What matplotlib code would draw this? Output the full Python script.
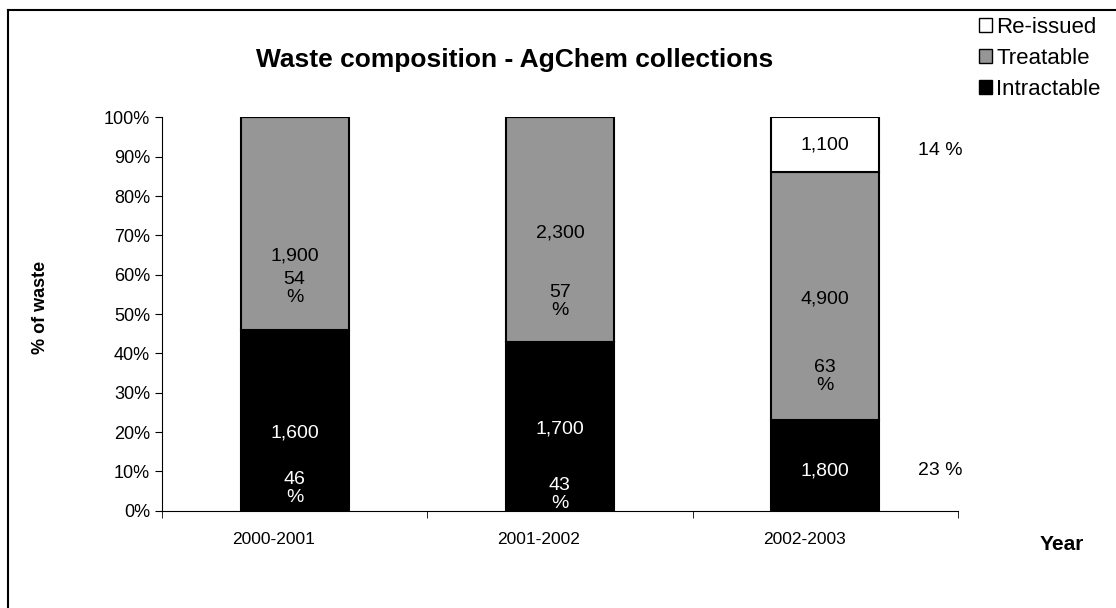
"""
Waste composition - AgChem collections, stacked percentage bars.
"""

import matplotlib
matplotlib.use("Agg")
import matplotlib.pyplot as plt
from matplotlib.lines import Line2D
from matplotlib.patches import Patch
from matplotlib.ticker import FixedLocator, FuncFormatter
from matplotlib.transforms import ScaledTranslation

plt.rcParams['font.family'] = ['Liberation Sans', 'DejaVu Sans']

# Data
years = ["2000-2001", "2001-2002", "2002-2003"]
intractable_pct = [46, 43, 23]
treatable_pct = [54, 57, 63]
reissued_pct = [0, 0, 14]
intractable_n = ["1,600", "1,700", "1,800"]
treatable_n = ["1,900", "2,300", "4,900"]
reissued_n = ["", "", "1,100"]

# where the labels sit inside the bars (y in % units)
intr_n_y = [19.7, 20.7, 10.2]
intr_p_y = [5.7, 4.2, None]
treat_n_y = [64.7, 70.5, 53.7]
treat_p_y = [56.5, 53.2, 34.2]
side_y = [91.5, 10.2]

fig = plt.figure(figsize=(11.16, 6.08), dpi=100)
ax = fig.add_axes([0.1452, 0.16, 0.713, 0.647])

x = list(range(len(years)))
w = 0.407
bottom2 = intractable_pct
bottom3 = [a + b for a, b in zip(intractable_pct, treatable_pct)]

ax.bar(x, intractable_pct, w, color="black", edgecolor="black", linewidth=1.5)
ax.bar(x, treatable_pct, w, bottom=bottom2, color="#969696", edgecolor="black", linewidth=1.5)
ax.bar(x, reissued_pct, w, bottom=bottom3, color="white", edgecolor="black", linewidth=1.5)

# labels inside bars
fs = 14
for i in x:
    ax.text(i, intr_n_y[i], intractable_n[i], ha="center", va="center", color="white", fontsize=fs)
    ax.text(i, treat_n_y[i], treatable_n[i], ha="center", va="center", color="black", fontsize=fs)
    ax.text(i, treat_p_y[i], "%d\n%%" % treatable_pct[i], ha="center", va="center", color="black",
            fontsize=fs, linespacing=1.1)
    if intr_p_y[i] is not None:
        ax.text(i, intr_p_y[i], "%d\n%%" % intractable_pct[i], ha="center", va="center", color="white",
                fontsize=fs, linespacing=1.1)
    if reissued_pct[i] > 0:
        r = reissued_pct[i]
        ax.text(i, bottom3[i] + r / 2, reissued_n[i], ha="center", va="center", color="black", fontsize=fs)
        ax.text(i + 0.35, side_y[0], "%d %%" % r, ha="left", va="center", fontsize=fs)
        ax.text(i + 0.35, side_y[1], "%d %%" % intractable_pct[i], ha="left", va="center", fontsize=fs)

ax.set_xlim(-0.5, 2.5)
ax.set_ylim(0, 100)
ax.yaxis.set_major_locator(FixedLocator(range(0, 101, 10)))
ax.yaxis.set_major_formatter(FuncFormatter(lambda v, p: "%d%%" % v))
ax.set_xticks(x)
ax.set_xticklabels(years)
ax.xaxis.set_minor_locator(FixedLocator([-0.5, 0.5, 1.5, 2.5]))
ax.tick_params(axis="x", which="major", length=0, labelsize=12.5, pad=15)
ax.tick_params(axis="x", which="minor", length=5, direction="out")
ax.tick_params(axis="y", length=5, direction="out", labelsize=13)

# category labels sit a little left of the bar centres
shift = ScaledTranslation(-0.21, 0, fig.dpi_scale_trans)
for lbl in ax.get_xticklabels():
    lbl.set_transform(lbl.get_transform() + shift)

for s in ["top", "right"]:
    ax.spines[s].set_visible(False)

ax.set_ylabel("% of waste", fontsize=13, fontweight="bold")
ax.yaxis.set_label_coords(-0.142, 0.518)
fig.text(0.951, 0.105, "Year", fontsize=15, fontweight="bold", ha="center", va="center")
fig.text(0.461, 0.902, "Waste composition - AgChem collections", fontsize=19,
         fontweight="bold", ha="center", va="center")

handles = [Patch(facecolor="white", edgecolor="black", label="Re-issued"),
           Patch(facecolor="#969696", edgecolor="black", label="Treatable"),
           Patch(facecolor="black", edgecolor="black", label="Intractable")]
fig.legend(handles=handles, loc="upper left", bbox_to_anchor=(0.867, 0.99), frameon=False,
           fontsize=16, handlelength=0.6, handleheight=0.6, handletextpad=0.2, labelspacing=0.45,
           borderpad=0)

# outer frame (top and left)
fig.add_artist(Line2D([0.007, 1.0], [0.984, 0.984], color="black", lw=1.5))
fig.add_artist(Line2D([0.007, 0.007], [0.0, 0.984], color="black", lw=1.5))

fig.savefig("out.png", dpi=100)
